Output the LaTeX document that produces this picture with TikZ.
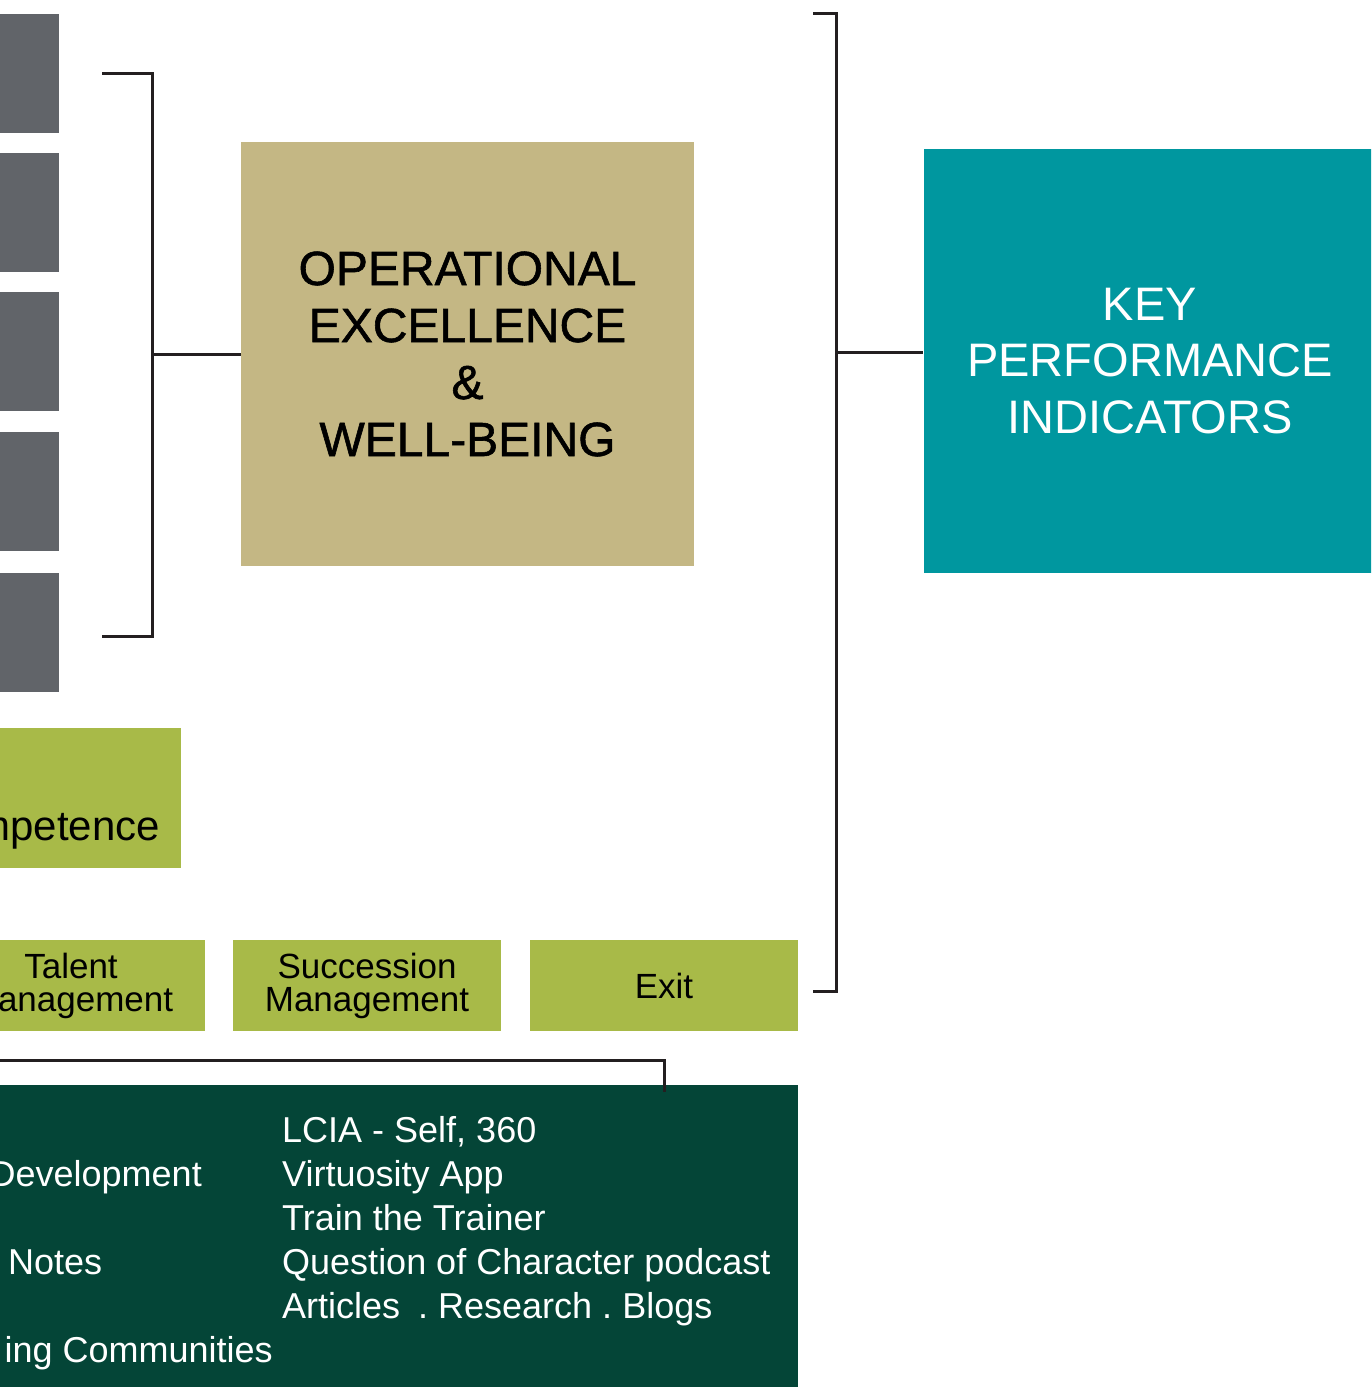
\documentclass[tikz,border=0pt]{standalone}
\usepackage{fontspec}
\setmainfont{Liberation Sans}
\newfontfamily\heavyfont{Liberation Sans}[FakeBold=1.2]
\usepackage{tikz}

\definecolor{slate}{RGB}{97,100,105}
\definecolor{sand}{RGB}{196,183,132}
\definecolor{lagoon}{RGB}{0,151,159}
\definecolor{leaf}{RGB}{168,186,72}
\definecolor{pine}{RGB}{4,69,55}
\definecolor{ink}{RGB}{35,31,32}

\begin{document}
\begin{tikzpicture}[x=1pt,y=-1pt,
  wire/.style={draw=ink, line width=3pt},
  pillar/.style={fill=slate, inner sep=0pt, minimum width=59pt, minimum height=119pt},
  bigbox/.style={inner sep=0pt, minimum width=453pt, minimum height=424pt, align=center},
  stage/.style={fill=leaf, inner sep=0pt, minimum width=268pt, minimum height=91pt,
    align=center, font=\fontsize{35}{33}\selectfont},
  restext/.style={text=white, inner sep=0pt, font=\fontsize{36}{44}\selectfont}]

\useasboundingbox (0,0) rectangle (1371,1387);
\clip (0,0) rectangle (1371,1387);

% grey column on the left
\node[pillar] (g1) at (29.5,73.5) {};
\node[pillar] (g2) at (29.5,212.5) {};
\node[pillar] (g3) at (29.5,351) {};
\node[pillar] (g4) at (29.5,491.5) {};
\node[pillar] (g5) at (29.5,632.5) {};

% the two big boxes
\node[bigbox, fill=sand, font=\heavyfont\fontsize{48}{57}\selectfont] (opx) at (467.5,354)
  {OPERATIONAL\\EXCELLENCE\\\&\\WELL-BEING};
\node[bigbox, fill=lagoon, text=white, font=\fontsize{47}{56.5}\selectfont] (kpi) at (1150,361)
  {KEY\\PERFORMANCE\\INDICATORS};

% brackets
\coordinate (ltop) at (102,73);
\coordinate (lbot) at (102,636);
\coordinate (lmid) at (152,354);
\draw[wire] (ltop) -| (lmid) |- (lbot);
\draw[wire] (lmid) -- (opx.west);

\coordinate (rtop) at (813,13);
\coordinate (rbot) at (813,991);
\coordinate (rmid) at (836,352);
\draw[wire] (rtop) -| (rmid) |- (rbot);
\draw[wire] (rmid) -- (rmid -| kpi.west);

% competence box
\node[fill=leaf, inner sep=0pt, minimum width=281pt, minimum height=140pt] (comp) at (40.5,798) {};
\node[anchor=base east, inner sep=0pt, font=\fontsize{42}{42}\selectfont] (compl) at (160,840) {Competence};

% life cycle stages
\node[stage] (talent) at (71,985.5) {Talent\\Management};
\node[stage] (succ) at (367,985.5) {Succession\\Management};
\node[stage] (exit) at (664,985.5) {Exit};

% resources
\node[fill=pine, inner sep=0pt, minimum width=1200pt, minimum height=320pt] (res) at (198,1245) {};
\coordinate (tleft) at (-10,1060);
\coordinate (tap) at (664,1092);
\draw[wire] (tleft) -| (tap);

\node[restext, anchor=base east] (dev) at (202,1186) {Development};
\node[restext, anchor=base west] (notes) at (8,1274) {Notes};
\node[restext, anchor=base east] (comm) at (273,1362) {ing Communities};
\node[restext, anchor=base west, align=left] (tools) at (282,1318)
  {LCIA - Self, 360\\Virtuosity App\\Train the Trainer\\Question of Character podcast\\
   Articles\hspace{18pt}.\hspace{10pt}Research\hspace{10pt}.\hspace{10pt}Blogs};

\end{tikzpicture}
\end{document}
